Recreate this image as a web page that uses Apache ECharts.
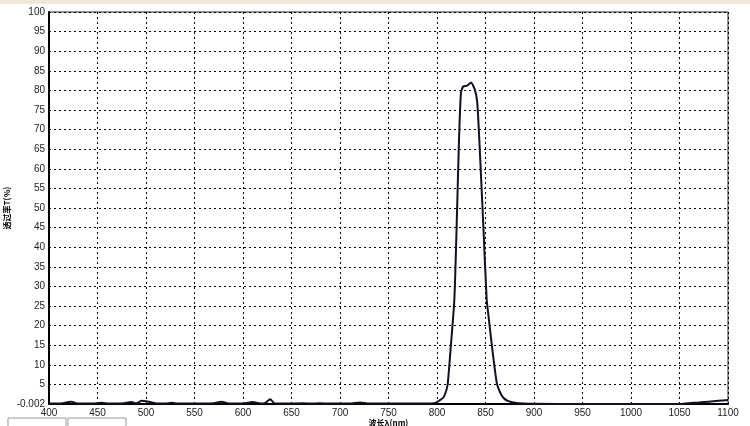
<!DOCTYPE html>
<html>
<head>
<meta charset="utf-8">
<script src="https://cdn.jsdelivr.net/npm/echarts@6/dist/echarts.min.js"></script>
<style>
html,body{margin:0;padding:0;background:#fff;}
#c{width:750px;height:426px;}
</style>
</head>
<body>
<div id="c"></div>
<script>
const wavelength = [400,410,423,430,445,454,462,475,485,490,495.6,500,504,512,520,526.5,533,560,570,578,586,600,610,618,623,628,633,645,662,670,679,690,710,720.6,730,760,790,797,800,803,806.5,809,811,814.4,817.9,820.3,822.7,824.7,827,831,835,839,841.5,843.6,845.5,847.7,851.2,853,856.4,861.6,865,868.4,873,880.4,890,900,950,1000,1050,1059,1070,1080,1090,1100];
const transmittance = [0.1,0.1,0.6,0.1,0.1,0.3,0.1,0.1,0.5,0.2,0.8,0.7,0.5,0.1,0.1,0.3,0.1,0.1,0.2,0.6,0.1,0.1,0.5,0.1,0.3,1.2,0.1,0.1,0.2,0.1,0.2,0.1,0.1,0.4,0.1,0.1,0.1,0.2,0.5,1.0,1.6,3.0,5.0,15.2,26.7,45.8,67.5,79.4,81.0,81.2,82.0,80.2,76.9,67.5,57.5,45.8,26.7,22.7,15.2,5.4,3.0,1.6,0.8,0.3,0.1,0.05,0,0,0,0.2,0.4,0.6,0.8,1.0];
const xTicks = [400,450,500,550,600,650,700,750,800,850,900,950,1000,1050,1100];
const yTicks = [0,5,10,15,20,25,30,35,40,45,50,55,60,65,70,75,80,85,90,95,100];
const xTitle = '波长λ(nm)';
const yTitle = '透过率T(%)';

const chart = echarts.init(document.getElementById('c'), null, {renderer:'canvas'});
const data = wavelength.map((w,i)=>[w, transmittance[i]]);
chart.setOption({
  animation:false,
  backgroundColor:'#fff',
  grid:{left:49,right:22,top:12,bottom:22,containLabel:false,outerBoundsMode:'none',show:true,borderColor:'#222',borderWidth:1,backgroundColor:'#fff'},
  xAxis:{
    type:'value',min:xTicks[0],max:xTicks[xTicks.length-1],interval:50,
    name:xTitle,nameLocation:'middle',nameGap:15,nameMoveOverlap:false,
    nameTextStyle:{fontFamily:'Noto Sans CJK SC',fontSize:8,fontWeight:'bold',color:'#000'},
    axisLine:{show:true,onZero:false,lineStyle:{color:'#000',width:2}},
    axisTick:{show:false},
    axisLabel:{margin:4,fontFamily:'Liberation Sans',fontSize:10,color:'#222',formatter:v=>String(v)},
    splitLine:{show:true,lineStyle:{color:'#000',type:[2,3],width:1}}
  },
  yAxis:{
    type:'value',min:yTicks[0],max:yTicks[yTicks.length-1],interval:5,
    name:yTitle,nameLocation:'middle',nameGap:38,nameRotate:90,nameMoveOverlap:false,
    nameTextStyle:{fontFamily:'Noto Sans CJK SC',fontSize:8,fontWeight:'bold',color:'#000'},
    axisLine:{show:true,onZero:false,lineStyle:{color:'#000',width:2}},
    axisTick:{show:false},
    axisLabel:{margin:4,fontFamily:'Liberation Sans',fontSize:10,color:'#222',
      formatter:v=> v===0 ? '-0.002' : String(v)},
    splitLine:{show:true,lineStyle:{color:'#000',type:[2,3],width:1}}
  },
  graphic:[
    {type:'rect',shape:{x:0,y:0,width:750,height:4},style:{fill:'#ece9d8'},silent:true},
    {type:'rect',shape:{x:8,y:418,width:58,height:10},style:{fill:'#fff',stroke:'#999',lineWidth:1},silent:true},
    {type:'rect',shape:{x:68,y:418,width:58,height:10},style:{fill:'#fff',stroke:'#999',lineWidth:1},silent:true}
  ],
  series:[{
    type:'line',data:data,showSymbol:false,smooth:0.2,
    lineStyle:{color:'#111122',width:2},
    clip:true
  }]
});
</script>
</body>
</html>
